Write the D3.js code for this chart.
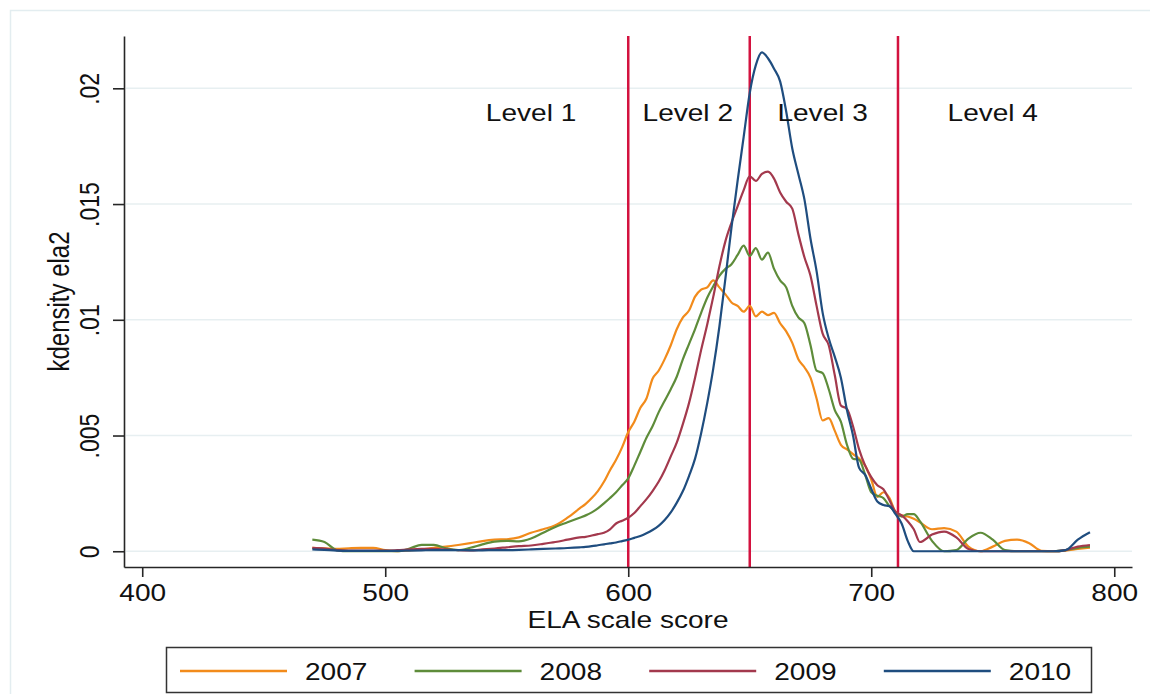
<!DOCTYPE html>
<html>
<head>
<meta charset="utf-8">
<script src="https://cdn.jsdelivr.net/npm/d3@7"></script>
<style>
  body { margin: 0; background: #fff; }
  svg text { font-family: "Liberation Sans", Arial, Helvetica, sans-serif; fill: #111; }
</style>
</head>
<body>
<svg id="chart" width="1150" height="694"></svg>
<script>
// kdensity of ELA scale score by year (density in thousandths)
const scores = [
  470,475,480,485,490,495,500,505,510,515,520,525,530,535,540,545,550,555,560,565,570,575,580,
  582.5,585,587.5,590,592.5,595,597.5,600,602.5,605,607.5,610,612.5,615,617.5,620,622.5,625,627.5,630,
  632.5,635,637.5,640,642.5,645,647.5,650,652.5,655,657.5,660,662.5,665,667.5,670,672.5,675,677.5,680,
  682.5,685,687.5,690,692.5,695,697.5,700,702.5,705,707.5,710,712.5,715,717.5,720,
  725,730,735,740,745,750,755,760,765,770,775,780,785,790
];
const dens2007 = [
  0.15,0.13,0.10,0.13,0.15,0.15,0.05,0.01,0.04,0.08,0.15,0.20,0.27,0.35,0.44,0.50,0.52,0.60,0.80,0.95,1.12,1.45,1.85,
  2.05,2.30,2.60,3.00,3.50,3.95,4.50,5.15,5.60,6.20,6.60,7.45,7.80,8.30,8.90,9.60,10.10,10.40,11.00,11.30,
  11.40,11.70,11.40,11.10,10.75,10.60,10.35,10.60,10.15,10.35,10.20,10.30,9.85,9.50,9.00,8.30,7.95,7.50,6.60,5.65,
  5.75,5.20,4.60,4.40,4.20,4.00,3.70,3.10,2.35,2.55,2.30,1.70,1.55,1.50,1.40,1.25,
  0.95,1.00,0.85,0.20,0.00,0.20,0.45,0.50,0.35,0.02,0.00,0.03,0.10,0.16
];
const dens2008 = [
  0.50,0.40,0.05,0.00,0.00,0.00,0.00,0.00,0.12,0.28,0.28,0.13,0.05,0.15,0.30,0.42,0.45,0.43,0.55,0.80,1.05,1.25,1.45,
  1.55,1.68,1.85,2.07,2.30,2.55,2.85,3.15,3.70,4.30,4.90,5.40,6.00,6.50,7.00,7.55,8.30,8.95,9.60,10.30,
  10.95,11.45,11.90,12.20,12.40,12.80,13.20,12.75,13.10,12.60,12.90,12.20,11.70,11.40,10.60,10.10,9.85,8.90,7.80,7.70,
  7.00,6.10,5.60,4.60,4.00,3.95,3.30,2.55,2.40,2.30,1.95,1.70,1.50,1.60,1.60,1.30,
  0.45,0.00,0.05,0.55,0.80,0.50,0.05,0.00,0.00,0.00,0.00,0.05,0.15,0.20
];
const dens2009 = [
  0.15,0.12,0.05,0.03,0.03,0.03,0.03,0.05,0.08,0.10,0.10,0.08,0.05,0.04,0.08,0.12,0.17,0.22,0.25,0.32,0.40,0.50,0.60,
  0.62,0.68,0.74,0.80,0.95,1.20,1.32,1.45,1.65,1.95,2.25,2.60,3.00,3.50,4.10,4.70,5.50,6.40,7.50,8.70,
  9.80,11.00,12.30,13.40,14.20,14.90,15.60,16.20,16.00,16.30,16.40,16.10,15.50,15.10,14.80,13.70,12.70,11.90,10.60,9.40,
  8.90,7.60,6.30,6.15,5.40,4.40,3.70,3.20,2.85,2.68,2.20,1.70,1.55,1.30,0.95,0.40,
  0.72,0.85,0.60,0.10,0.00,0.00,0.00,0.00,0.00,0.00,0.00,0.05,0.20,0.27
];
const dens2010 = [
  0.08,0.06,0.03,0.02,0.02,0.02,0.02,0.02,0.03,0.04,0.05,0.05,0.05,0.04,0.04,0.05,0.05,0.06,0.08,0.10,0.12,0.14,0.17,
  0.19,0.22,0.26,0.30,0.34,0.38,0.44,0.50,0.58,0.66,0.78,0.92,1.10,1.35,1.68,2.10,2.60,3.25,4.00,5.10,
  6.40,7.90,9.70,11.80,14.00,16.00,17.90,19.80,21.00,21.55,21.30,20.85,20.30,19.00,17.40,16.30,15.20,13.50,12.10,10.30,
  9.20,8.40,7.50,6.10,5.00,3.60,3.30,2.70,2.15,2.00,1.95,1.60,1.20,0.45,0.00,0.00,
  0.00,0.00,0.00,0.00,0.00,0.00,0.00,0.00,0.00,0.00,0.00,0.05,0.50,0.82
];

const years = ["2007", "2008", "2009", "2010"];
const colors = ["#f28b1b", "#5e8c3a", "#a3394d", "#1f4d7f"];

const xTicks = [400, 500, 600, 700, 800];
const yTicks = [0, 5, 10, 15, 20];
const yTickLabels = ["0", ".005", ".01", ".015", ".02"];

const cutScores = [600, 650, 711];
const levelNames = ["Level 1", "Level 2", "Level 3", "Level 4"];
const levelX = [560, 624.5, 680, 750];
const levelY = 18.93;

const stretch = 1.22;   // the picture is a bit wider than tall
const fontSize = 23;

const svg = d3.select("#chart");

// outer frame
svg.append("rect")
  .attr("x", 10.5).attr("y", 10.5)
  .attr("width", 1200).attr("height", 800)
  .attr("fill", "none")
  .attr("stroke", "#e3edf0")
  .attr("stroke-width", 1.5);

const x = d3.scaleLinear().domain([392.5, 807.3]).range([124, 1132]);
const y = d3.scaleLinear().domain([-0.68, 22.26]).range([567, 36]);

// grid
svg.append("g")
  .selectAll("line")
  .data(yTicks)
  .join("line")
  .attr("x1", 126).attr("x2", 1132)
  .attr("y1", d => y(d)).attr("y2", d => y(d))
  .attr("stroke", "#e7eff1")
  .attr("stroke-width", 1.5);

// cut score lines
svg.append("g")
  .selectAll("line")
  .data(cutScores)
  .join("line")
  .attr("x1", d => x(d)).attr("x2", d => x(d))
  .attr("y1", 36).attr("y2", 567)
  .attr("stroke", "#d3123f")
  .attr("stroke-width", 2.5);

// curves
const series = [dens2007, dens2008, dens2009, dens2010];
const line = d3.line()
  .x((d, i) => x(scores[i]))
  .y(d => y(d))
  .curve(d3.curveMonotoneX);

svg.append("g")
  .selectAll("path")
  .data(series)
  .join("path")
  .attr("d", d => line(d))
  .attr("fill", "none")
  .attr("stroke", (d, i) => colors[i])
  .attr("stroke-width", 2.2)
  .attr("stroke-linejoin", "round");

// axes
const xAxis = svg.append("g")
  .attr("transform", "translate(0,567)")
  .call(d3.axisBottom(x).tickValues(xTicks).tickSize(10).tickSizeOuter(0))
  .attr("font-size", fontSize)
  .attr("font-family", null);
xAxis.selectAll("text")
  .attr("y", 33.7)
  .attr("dy", 0)
  .attr("transform", "scale(" + stretch + ",1)");

const yAxis = svg.append("g")
  .attr("transform", "translate(124,0)")
  .call(d3.axisLeft(y).tickValues(yTicks).tickFormat((d, i) => yTickLabels[i]).tickSize(11).tickSizeOuter(0))
  .attr("font-size", fontSize)
  .attr("font-family", null);
yAxis.selectAll("text")
  .attr("x", 0)
  .attr("dy", 0)
  .attr("text-anchor", "middle")
  .attr("transform", "translate(-25,0) rotate(-90) scale(1," + stretch + ")");

svg.selectAll(".domain, .tick line")
  .attr("stroke", "#262626")
  .attr("stroke-width", 1.6);

// titles
svg.append("text")
  .attr("transform", "translate(628,628.3) scale(" + stretch + ",1)")
  .attr("text-anchor", "middle")
  .attr("font-size", fontSize)
  .text("ELA scale score");

svg.append("text")
  .attr("transform", "translate(69,301.5) rotate(-90) scale(1," + stretch + ")")
  .attr("text-anchor", "middle")
  .attr("font-size", 24)
  .text("kdensity ela2");

// level labels
svg.append("g")
  .selectAll("text")
  .data(levelNames)
  .join("text")
  .attr("transform", (d, i) => "translate(" + x(levelX[i]) + "," + y(levelY) + ") scale(" + stretch + ",1)")
  .attr("dy", "0.36em")
  .attr("text-anchor", "middle")
  .attr("font-size", fontSize)
  .text(d => d);

// legend
const legend = svg.append("g");
legend.append("rect")
  .attr("x", 166.5).attr("y", 647.5)
  .attr("width", 925).attr("height", 45)
  .attr("fill", "#fff")
  .attr("stroke", "#333")
  .attr("stroke-width", 1.5);

const item = legend.selectAll("g.item")
  .data(years)
  .join("g")
  .attr("class", "item")
  .attr("transform", (d, i) => "translate(" + (180 + i * 234.6) + ",0)");
item.append("line")
  .attr("x1", 0).attr("x2", 107)
  .attr("y1", 671).attr("y2", 671)
  .attr("stroke", (d, i) => colors[i])
  .attr("stroke-width", 2.4);
item.append("text")
  .attr("transform", "translate(125,680) scale(" + stretch + ",1)")
  .attr("font-size", fontSize)
  .text(d => d);
</script>
</body>
</html>
